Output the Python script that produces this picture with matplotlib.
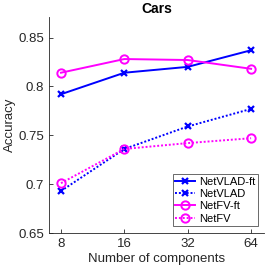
import numpy as np
import matplotlib
matplotlib.use("Agg")
import matplotlib.pyplot as plt

plt.rcParams["font.family"] = ["Liberation Sans", "DejaVu Sans"]

components = [8, 16, 32, 64]
netvlad_ft = [0.792, 0.814, 0.820, 0.837]
netvlad = [0.693, 0.736, 0.759, 0.777]
netfv_ft = [0.814, 0.828, 0.827, 0.818]
netfv = [0.701, 0.736, 0.742, 0.747]

fig = plt.figure(figsize=(2.66, 2.70), dpi=100)
ax = fig.add_axes([0.184, 0.137, 0.81, 0.80])

x = np.log2(components)
dot = (0, (1, 1))
ax.plot(x, netvlad_ft, color="#0000ff", linestyle="-", marker="x", markersize=5, mew=1.6, lw=1.4, label="NetVLAD-ft")
ax.plot(x, netvlad, color="#0000ff", linestyle=dot, marker="x", markersize=5, mew=1.6, lw=1.4, label="NetVLAD")
ax.plot(x, netfv_ft, color="#ff00ff", linestyle="-", marker="o", markersize=6, mew=1.4, mfc="none", lw=1.4, label="NetFV-ft")
ax.plot(x, netfv, color="#ff00ff", linestyle=dot, marker="o", markersize=6, mew=1.4, mfc="none", lw=1.4, label="NetFV")

ax.set_xlim(2.81, 6.21)
ax.set_ylim(0.65, 0.871)
ax.set_xticks(x)
ax.set_xticklabels([str(c) for c in components])
ax.set_yticks([0.65, 0.7, 0.75, 0.8, 0.85])
ax.set_yticklabels(["0.65", "0.7", "0.75", "0.8", "0.85"])

for s in ["top", "right"]:
    ax.spines[s].set_visible(False)
for s in ["left", "bottom"]:
    ax.spines[s].set_color("#262626")
    ax.spines[s].set_linewidth(0.6)
ax.tick_params(direction="in", length=3, width=0.6, colors="#262626", labelsize=9.5, labelcolor="#262626")

ax.set_xlabel("Number of components", fontsize=9.5, color="#262626", labelpad=2)
ax.set_ylabel("Accuracy", fontsize=9.5, color="#262626", labelpad=2)
ax.set_title("Cars", fontsize=10, fontweight="bold", pad=3)

leg = ax.legend(loc="lower right", fontsize=8, frameon=True, fancybox=False, borderpad=0.25,
                labelspacing=0.2, handlelength=1.8, handletextpad=0.3, borderaxespad=0.6)
leg.get_frame().set_edgecolor("#262626")
leg.get_frame().set_linewidth(0.6)

fig.savefig("out.png", dpi=100)
